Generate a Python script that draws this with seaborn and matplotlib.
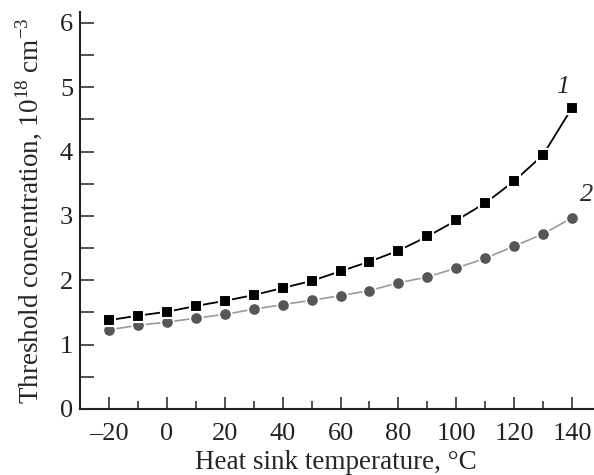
import matplotlib
matplotlib.use("Agg")
import matplotlib.pyplot as plt
import seaborn as sns
import pandas as pd
from matplotlib.ticker import MultipleLocator

# Heat sink temperature, deg C
temperature = [-20, -10, 0, 10, 20, 30, 40, 50, 60, 70, 80, 90, 100, 110, 120, 130, 140]

# Threshold concentration, 1e18 cm^-3
curve_1 = [1.38, 1.45, 1.51, 1.60, 1.68, 1.77, 1.88, 1.99, 2.14, 2.29, 2.46, 2.68, 2.93, 3.20, 3.54, 3.95, 4.68]
curve_2 = [1.23, 1.30, 1.35, 1.41, 1.47, 1.55, 1.62, 1.69, 1.76, 1.84, 1.96, 2.05, 2.19, 2.34, 2.53, 2.72, 2.97]

curve_labels = ["1", "2"]

sns.set_style("ticks")
plt.rcParams["font.family"] = ["Liberation Serif", "DejaVu Serif"]
plt.rcParams["mathtext.fontset"] = "custom"
plt.rcParams["mathtext.rm"] = "Liberation Serif"

df1 = pd.DataFrame({"T": temperature, "n": curve_1})
df2 = pd.DataFrame({"T": temperature, "n": curve_2})

fig = plt.figure(figsize=(5.94, 4.75), dpi=100)
ax = fig.add_axes([0.1347, 0.139, 0.863, 0.836])

sns.lineplot(data=df2, x="T", y="n", ax=ax, color="#9a9a9a", linewidth=1.2,
             marker="o", markersize=9, markerfacecolor="#575757",
             markeredgecolor="white", markeredgewidth=1.3)
sns.lineplot(data=df1, x="T", y="n", ax=ax, color="black", linewidth=1.3,
             marker="s", markersize=8.5, markerfacecolor="black",
             markeredgecolor="white", markeredgewidth=1.5)

# curve numbers
ax.text(136.8, 5.0, curve_labels[0], fontsize=19, style="italic", ha="center", va="center")
ax.text(145.1, 3.32, curve_labels[1], fontsize=19, style="italic", ha="center", va="center")

ax.set_xlim(-30, 147.1)
ax.set_ylim(0, 6.17)
ax.xaxis.set_major_locator(MultipleLocator(20))
ax.xaxis.set_minor_locator(MultipleLocator(10))
ax.yaxis.set_major_locator(MultipleLocator(1))
ax.yaxis.set_minor_locator(MultipleLocator(0.5))

ax.set_xticks([-20, 0, 20, 40, 60, 80, 100, 120, 140])
ax.set_xticklabels(["\u201320", "0", "20", "40", "60", "80", "100", "120", "140"])

ax.tick_params(axis="both", which="both", direction="in", labelsize=19, width=1.1, colors="#222222")
ax.tick_params(axis="x", which="major", length=9, pad=10)
ax.tick_params(axis="x", which="minor", length=6)
ax.tick_params(axis="y", which="major", length=10, pad=5)
ax.tick_params(axis="y", which="minor", length=10)

for side in ["top", "right"]:
    ax.spines[side].set_visible(False)
for side in ["left", "bottom"]:
    ax.spines[side].set_linewidth(1.5)
    ax.spines[side].set_color("#222222")

ax.set_xlabel("Heat sink temperature, \u00b0C", fontsize=19.5, labelpad=4)
ax.set_ylabel("Threshold concentration, $10^{18}$ cm$^{\u22123}$", fontsize=19.5, labelpad=11)

fig.savefig("out.png", dpi=100)
